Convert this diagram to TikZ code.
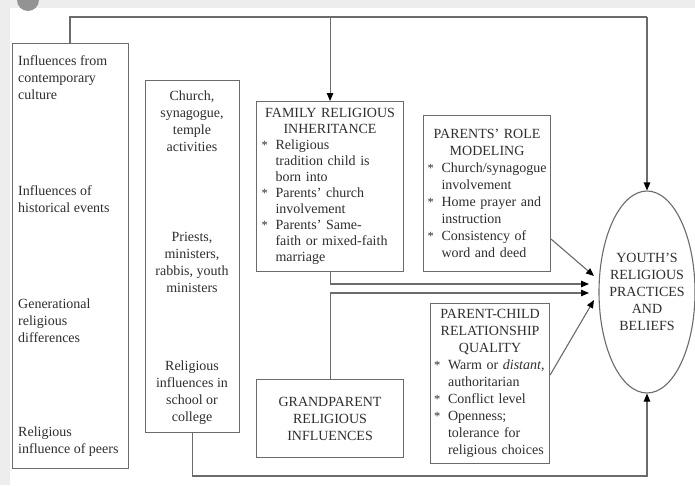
\documentclass[tikz,border=0pt]{standalone}
\usepackage{fontspec}
\setmainfont{Liberation Serif}
\usetikzlibrary{shapes.geometric, arrows.meta, positioning, calc}

\definecolor{linegray}{gray}{0.42}
\definecolor{textgray}{gray}{0.18}
\definecolor{edgegray}{gray}{0.93}

\newcommand{\itm}[1]{\par\hangindent=1em\hangafter=1\noindent\makebox[1em][l]{\raisebox{0.5pt}{\fontsize{12.5}{12}\selectfont *}}#1\par}

\tikzset{
  box/.style={draw=linegray, line width=1.1pt, rectangle, inner sep=0pt, anchor=north west},
  info/.style={box, text=textgray, align=left, font=\fontsize{14}{17}\selectfont},
  txt/.style={inner sep=0pt, text=textgray, font=\fontsize{14}{17}\selectfont},
  link/.style={draw=linegray, line width=1.1pt},
  arr/.style={link, -{Triangle[length=8pt,width=6.5pt,color=black]}}
}

\begin{document}
\begin{tikzpicture}[x=1pt, y=-1pt]
\useasboundingbox (0,0) rectangle (695,485);
\fill[white] (0,0) rectangle (695,485);
\fill[edgegray] (0,0) rectangle (695,8);
\fill[edgegray] (0,0) rectangle (10,485);
\begin{scope}
\clip (0,0) rectangle (695,485);
\fill[gray!85] (28,0) circle (11pt);
\end{scope}

\node[box, minimum width=116pt, minimum height=425pt] (culture) at (12,43) {};
\node[txt, anchor=north west, align=left] (contemp) at (18,55) {Influences from\\contemporary\\culture};
\node[txt, anchor=north west, align=left] (history) at (18,185) {Influences of\\historical events};
\node[txt, anchor=north west, align=left] (generation) at (18,299) {Generational\\religious\\differences};
\node[txt, anchor=north west, align=left] (peers) at (18,427) {Religious\\influence of peers};

\node[box, minimum width=94pt, minimum height=352pt] (church) at (145,80) {};
\node[txt, anchor=north, align=center] (temple) at (192,91) {Church,\\synagogue,\\temple\\activities};
\node[txt, anchor=north, align=center] (clergy) at (192,232) {Priests,\\ministers,\\rabbis, youth\\ministers};
\node[txt, anchor=north, align=center] (school) at (192,361) {Religious\\influences in\\school or\\college};

\node[info, minimum width=147pt, minimum height=170pt, text width=137pt,
  font=\fontsize{14}{16}\selectfont] (family) at (256,101) {%
  {\centering FAMILY RELIGIOUS\\INHERITANCE\par}
  \itm{Religious\newline tradition child is\newline born into}
  \itm{Parents' church\newline involvement}
  \itm{Parents' Same-\newline faith or mixed-faith\newline marriage}};

\node[info, minimum width=127pt, minimum height=156pt, text width=119pt] (role) at (423,115) {%
  {\centering PARENTS' ROLE\\MODELING\par}
  \itm{Church/synagogue\newline involvement}
  \itm{Home prayer and\newline instruction}
  \itm{Consistency of\newline word and deed}};

\node[info, minimum width=119pt, minimum height=160pt, text width=112pt] (pc) at (430,303) {%
  {\centering PARENT-CHILD\\RELATIONSHIP\\QUALITY\par}
  \itm{Warm or \textit{distant,}\newline authoritarian}
  \itm{Conflict level}
  \itm{Openness;\newline tolerance for\newline religious choices}};

\node[info, minimum width=147pt, minimum height=78pt, align=center] (grand) at (256,379)
  {GRANDPARENT\\RELIGIOUS\\INFLUENCES};

\node[ellipse, draw=linegray, line width=1.1pt, minimum width=96pt, minimum height=202pt,
  inner xsep=-8pt, inner ysep=0pt, align=center, text=textgray,
  font=\fontsize{14}{17}\selectfont] (youth) at (647,292)
  {YOUTH'S\\RELIGIOUS\\PRACTICES\\AND\\BELIEFS};

\coordinate (topL) at (70,17);
\coordinate (topR) at (647,17);
\coordinate (botR) at (647,476);
\coordinate (inA) at (594,276);
\coordinate (inB) at (589,284);
\coordinate (inC) at (589,293);
\coordinate (inD) at (594,300);

\draw[link] (culture.north -| topL) -- (topL) -- (topR);
\draw[arr] (topR) -- (youth.north);
\draw[arr] (family.north |- topL) -- (family.north);
\draw[arr] (church.south) |- (botR) -- (youth.south);
\draw[arr] (family.south) |- (inB);
\draw[arr] (grand.north) |- (inC);
\draw[arr] ([yshift=33pt]role.south east) -- (inA);
\draw[arr] ([yshift=-72pt]pc.north east) -- (inD);

\end{tikzpicture}
\end{document}
